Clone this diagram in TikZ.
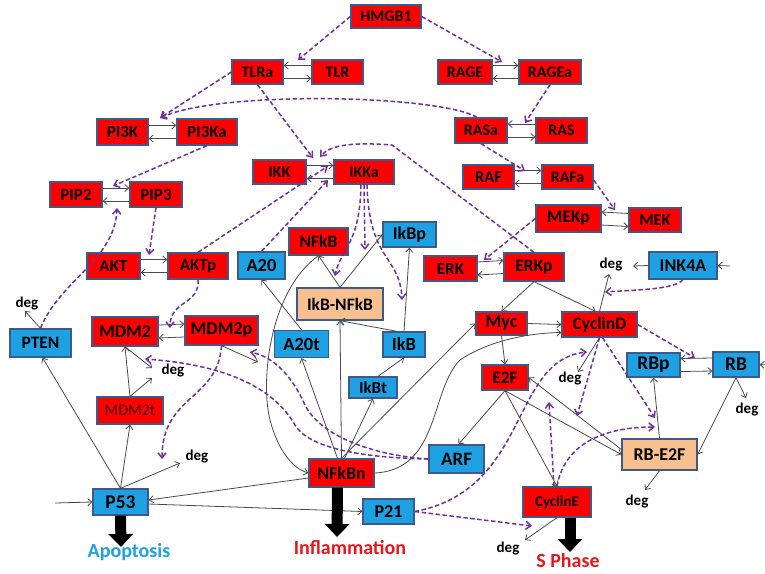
\documentclass[tikz,border=0pt]{standalone}
\usepackage{fontspec}
\setmainfont{Carlito}
\usetikzlibrary{arrows.meta}
\definecolor{boxred}{HTML}{FF0000}
\definecolor{boxblue}{HTML}{1DA1E3}
\definecolor{boxpeach}{HTML}{F9C08F}
\definecolor{boxborder}{HTML}{3E5A8A}
\definecolor{lgray}{HTML}{4A4A4A}
\definecolor{dpurple}{HTML}{7030A0}
\definecolor{apblue}{HTML}{1DA1E3}
\definecolor{labred}{HTML}{E8161C}
\newcommand\bx[8]{\node[#6,minimum width=#4pt,minimum height=#5pt,font=\bfseries\fontsize{#7}{#7}\selectfont] (#1) at (#2,#3) {#8};}
\newcommand\pairR[2]{\draw[ar]([yshift=6.5pt]#1.east)--([yshift=6.5pt]#2.west);\draw[ar]([yshift=-6.5pt]#2.west)--([yshift=-6.5pt]#1.east);}
\newcommand\pairL[2]{\draw[ar]([yshift=6.5pt]#2.west)--([yshift=6.5pt]#1.east);\draw[ar]([yshift=-6.5pt]#1.east)--([yshift=-6.5pt]#2.west);}
\begin{document}
\begin{tikzpicture}[x=1pt,y=-1pt,
 box/.style={draw=boxborder,line width=1.3pt,inner sep=0pt,text=black},
 rb/.style={box,fill=boxred}, bb/.style={box,fill=boxblue}, pb/.style={box,fill=boxpeach},
 ar/.style={draw=lgray,line width=0.8pt,-{Straight Barb[length=4pt,width=7pt]}},
 da/.style={draw=dpurple,line width=1.5pt,dash pattern=on 4.5pt off 2.5pt,-{Straight Barb[length=5pt,width=8pt]}},
 degst/.style={font=\bfseries\fontsize{15}{15}\selectfont,inner sep=0pt,text=black},
 big/.style={line width=11pt,draw=black,-{Triangle[width=24pt,length=13pt]}},
 lab/.style={font=\bfseries\fontsize{20}{22}\selectfont,inner sep=0pt}]
\useasboundingbox (0,0) rectangle (765,573);
% nodes
\bx{HMGB1}{386}{16.5}{70}{23}{rb}{16}{HMGB1}
\bx{TLRa}{257.5}{72}{51}{24}{rb}{16}{TLRa}
\bx{TLR}{337.5}{72}{51}{24}{rb}{16}{TLR}
\bx{RAGE}{465}{72}{54}{24}{rb}{16}{RAGE}
\bx{RAGEa}{550}{72}{62}{24}{rb}{16}{RAGEa}
\bx{PIK}{122.5}{132}{51}{26}{rb}{17}{PI3K}
\bx{PIKa}{207}{132}{60}{26}{rb}{17}{PI3Ka}
\bx{RASa}{481}{130.5}{52}{25}{rb}{16}{RASa}
\bx{RAS}{561.5}{130.5}{51}{25}{rb}{16}{RAS}
\bx{IKK}{279.5}{172}{53}{24}{rb}{16.5}{IKK}
\bx{IKKa}{364}{172}{60}{24}{rb}{16}{IKKa}
\bx{RAF}{488.5}{177}{51}{24}{rb}{16.5}{RAF}
\bx{RAFa}{567.5}{177}{51}{24}{rb}{16}{RAFa}
\bx{PIPb}{76}{194.5}{52}{25}{rb}{17}{PIP2}
\bx{PIPc}{156}{194.5}{52}{25}{rb}{17}{PIP3}
\bx{MEKp}{568.5}{218.5}{65}{27}{rb}{17.5}{MEKp}
\bx{MEK}{655}{220}{52}{24}{rb}{16.5}{MEK}
\bx{AKT}{113.5}{266}{53}{26}{rb}{17}{AKT}
\bx{AKTp}{198}{266}{60}{26}{rb}{17}{AKTp}
\bx{A20}{261.5}{265.5}{47}{27}{bb}{18.5}{A20}
\bx{NFkB}{318.5}{241.5}{59}{27}{rb}{17.5}{NFkB}
\bx{IkBp}{409.5}{234.5}{53}{25}{bb}{18}{IkBp}
\bx{ERK}{450.5}{268.5}{53}{25}{rb}{17}{ERK}
\bx{ERKp}{534}{267}{60}{28}{rb}{17.5}{ERKp}
\bx{INK}{683}{265.5}{68}{27}{bb}{18}{INK4A}
\bx{IkBNFkB}{340}{304}{86}{32}{pb}{17.5}{IkB-NFkB}
\bx{PTEN}{40.5}{343}{61}{28}{bb}{17.5}{PTEN}
\bx{MDM}{125}{331.5}{66}{29}{rb}{18}{MDM2}
\bx{MDMp}{221.5}{330.5}{73}{29}{rb}{18}{MDM2p}
\bx{A20t}{301.5}{344}{54}{27}{bb}{18.5}{A20t}
\bx{IkB}{404}{344.5}{42}{25}{bb}{18.5}{IkB}
\bx{Myc}{501.5}{323.5}{51}{23}{rb}{18}{Myc}
\bx{CycD}{599.5}{324.5}{75}{25}{rb}{17.5}{CyclinD}
\bx{RBp}{653.5}{365}{53}{24}{bb}{19.5}{RBp}
\bx{RB}{736}{364.5}{46}{25}{bb}{19.5}{RB}
\bx{EF}{505}{377.5}{46}{25}{rb}{17.5}{E2F}
\node[rb,minimum width=66pt,minimum height=27pt,font=\fontsize{16}{16}\selectfont,text={black!75!red}] (MDMt) at (130,410.5) {MDM2t};
\bx{IkBt}{373}{387.5}{48}{21}{bb}{17}{IkBt}
\bx{RBEF}{659.5}{454.5}{75}{31}{pb}{18}{RB-E2F}
\bx{ARF}{456.5}{459}{55}{28}{bb}{19}{ARF}
\bx{NFkBn}{341.5}{473}{65}{28}{rb}{18}{NFkBn}
\bx{P53}{120.5}{502}{55}{26}{bb}{19.5}{P53}
\bx{P21}{388.5}{511.5}{51}{25}{bb}{18}{P21}
\bx{CycE}{557}{502}{68}{30}{rb}{15}{CyclinE}
% deg labels
\node[degst] (degA) at (27,304) {deg};
\node[degst] (degB) at (173,371) {deg};
\node[degst] (degC) at (197,457) {deg};
\node[degst] (degD) at (611,265) {deg};
\node[degst] (degE) at (570,379) {deg};
\node[degst] (degF) at (747,410) {deg};
\node[degst] (degG) at (637,501) {deg};
\node[degst] (degH) at (508,548) {deg};
% outcome labels
\node[lab,text=apblue] (Apop) at (129,552) {Apoptosis};
\node[lab,text=labred] (Infl) at (350,548) {Inflammation};
\node[lab,text=labred] (SPh) at (568,561) {S Phase};
% reversible pairs
\pairL{TLRa}{TLR}
\pairR{RAGE}{RAGEa}
\pairR{PIK}{PIKa}
\pairL{RASa}{RAS}
\pairR{IKK}{IKKa}
\pairR{RAF}{RAFa}
\pairR{PIPb}{PIPc}
\pairL{MEKp}{MEK}
\pairR{AKT}{AKTp}
\pairR{ERK}{ERKp}
\pairR{MDM}{MDMp}
\pairL{RBp}{RB}
% target coordinates
\coordinate (t1) at (298,60);
\coordinate (t2) at (502,62);
\coordinate (t3) at (160,118);
\coordinate (t5) at (113,186);
\coordinate (t6) at (313,158);
\coordinate (t7) at (320,157);
\coordinate (t8) at (328,166);
\coordinate (t9) at (328,180);
\coordinate (t10) at (335,276);
\coordinate (t11) at (365,250);
\coordinate (t12) at (402,300);
\coordinate (t13) at (525,171);
\coordinate (t14) at (525,123);
\coordinate (t15) at (615,210);
\coordinate (t16) at (484,260);
\coordinate (t17) at (149,255);
\coordinate (t18) at (117,208);
\coordinate (t19) at (170,328);
\coordinate (t20) at (162,459);
\coordinate (t21) at (145,359);
\coordinate (t22) at (250,352);
\coordinate (t23) at (587,352);
\coordinate (t24) at (532,526);
\coordinate (t25) at (605,292);
\coordinate (t26) at (695,358);
\coordinate (t27) at (655,418);
\coordinate (t28) at (577,416);
\coordinate (t29) at (655,427);
\coordinate (t30) at (549,402);
% dashed influences
\draw[da] (HMGB1.west) -- (t1);
\draw[da] (HMGB1.east) -- (t2);
\draw[da] (TLRa.west) -- (t3);
\draw[da] ([xshift=-4pt]RASa.north) .. controls (440,95) and (220,90) .. (t3);
\draw[da] (PIKa.south) -- (t5);
\draw[da] (TLRa.south) -- (t6);
\draw[da] (ERKp.north) -- (392,145) .. controls (352,142) and (330,145) .. (t7);
\draw[da] (AKTp.north) -- (t8);
\draw[da] (A20.north) -- (t9);
\draw[da] ([xshift=-3pt]IKKa.south) .. controls (360,245) and (340,250) .. (t10);
\draw[da] (IKKa.south) -- (t11);
\draw[da] ([xshift=3pt]IKKa.south) .. controls (369,262) and (400,255) .. (t12);
\draw[da] (RASa.south) -- (t13);
\draw[da] (RAGEa.south) -- (t14);
\draw[da] ([yshift=-3pt]RAFa.east) -- (t15);
\draw[da] (MEKp.west) -- (t16);
\draw[da] (PIPc.south) -- (t17);
\draw[da] (PTEN.north) .. controls (60,280) and (115,260) .. (t18);
\draw[da] (AKTp.south) .. controls (200,305) and (170,300) .. (t19);
\draw[da] (MDMp.south) .. controls (218,400) and (162,395) .. (t20);
\draw[da] (ARF.west) .. controls (370,458) and (310,450) .. (295,425) .. controls (275,390) and (230,365) .. (t21);
\draw[da] (ARF.west) .. controls (370,455) and (320,435) .. (305,405) .. controls (293,378) and (275,357) .. (t22);
\draw[da] (P21.east) .. controls (530,490) and (510,360) .. (t23);
\draw[da] (P21.east) -- (t24);
\draw[da] (INK.south) .. controls (675,290) and (630,290) .. (t25);
\draw[da] (CycD.east) -- (t26);
\draw[da] ([xshift=3pt]CycD.south) -- (t27);
\draw[da] (CycD.south) -- (t28);
\draw[da] (CycE.north) .. controls (565,440) and (610,427) .. (t29);
\draw[da] ([xshift=-3pt]CycE.north) -- (t30);
% solid reactions
\coordinate (inkIn) at (730,266);
\coordinate (dD1) at (633,266);
\coordinate (dD2) at (609,274);
\coordinate (dB1) at (152,368);
\coordinate (dB2) at (152,378);
\coordinate (mp) at (258,362);
\coordinate (dA) at (25,311);
\coordinate (dC) at (180,463);
\coordinate (dF) at (746,398);
\coordinate (dG) at (645,490);
\coordinate (dH) at (525,540);
\coordinate (dE) at (578,372);
\coordinate (rbIn) at (768,365);
\coordinate (p53in) at (55,503);
\draw[ar] (inkIn) -- (INK.east);
\draw[ar] (INK.west) -- (dD1);
\draw[ar] (CycD.north) -- (dD2);
\draw[ar] (ERKp.south) -- (Myc.north);
\draw[ar] (ERKp.south) -- ([xshift=-4pt]CycD.north);
\draw[ar] (Myc.east) -- (CycD.west);
\draw[ar] (Myc.south) -- (EF.north);
\draw[ar] (NFkBn.north) -- (Myc.west);
\draw[ar] (NFkBn.east) .. controls (440,470) and (430,390) .. (460,360) .. controls (490,340) and (530,333) .. ([yshift=-8pt]CycD.west);
\draw[ar] (NFkB.south) .. controls (270,290) and (260,380) .. (270,420) .. controls (278,450) and (292,468) .. (NFkBn.west);
\draw[ar] (IkBNFkB.north) -- (NFkB.south);
\draw[ar] (IkBNFkB.north) -- (IkBp.west);
\draw[ar] ([xshift=-4pt]NFkBn.north) -- (A20t.south);
\draw[ar] (A20t.north) -- (A20.south);
\draw[ar] (NFkBn.north) -- (IkBNFkB.south);
\draw[ar] ([xshift=-7pt]IkB.north) -- (IkBNFkB.south);
\draw[ar] (IkB.north) -- (IkBp.south);
\draw[ar] ([xshift=5pt]IkBt.north) -- (IkB.south);
\draw[ar] ([xshift=3pt]NFkBn.north) -- (IkBt.south);
\draw[ar] ([yshift=-5pt]NFkBn.west) -- ([yshift=2pt]P53.east);
\draw[ar] ([yshift=-2pt]P53.east) -- (P21.west);
\draw[ar] (p53in) -- (P53.west);
\draw[ar] (P53.north) -- (MDMt.south);
\draw[ar] (MDMt.north) -- (MDM.south);
\draw[ar] (MDM.south) -- (dB1);
\draw[ar] (MDMt.north) -- (dB2);
\draw[ar] (MDMp.south) -- (mp);
\draw[ar] (P53.north) -- ([xshift=2pt]PTEN.south);
\draw[ar] (PTEN.north) -- (dA);
\draw[ar] (P53.north) -- (dC);
\draw[ar] (EF.south) -- ([xshift=2pt]ARF.north);
\draw[ar] (EF.south) -- (CycE.north);
\draw[ar] (EF.south) -- (RBEF.west);
\draw[ar] ([yshift=5pt]RBEF.west) -- (EF.east);
\draw[ar] (RB.south) -- (RBEF.east);
\draw[ar] (RB.south) -- (dF);
\draw[ar] (RBEF.north) -- (RBp.south);
\draw[ar] (RBEF.south) -- (dG);
\draw[ar] (CycE.south) -- (dH);
\draw[ar] (CycD.south) -- (dE);
\draw[ar] (rbIn) -- (RB.east);
% big outcome arrows
\coordinate (apT) at (121,547);
\coordinate (inT) at (337,537);
\coordinate (spT) at (570,552);
\draw[big] (P53.south) -- (apT);
\draw[big] ([xshift=-4pt]NFkBn.south) -- (inT);
\draw[big] ([xshift=13pt]CycE.south) -- (spT);
\end{tikzpicture}
\end{document}
